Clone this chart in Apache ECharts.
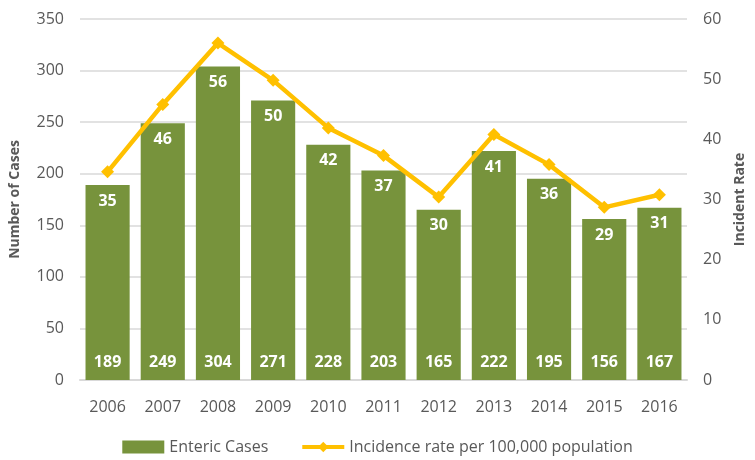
<!DOCTYPE html>
<html><head><meta charset="utf-8">
<script src="https://cdn.jsdelivr.net/npm/echarts@6/dist/echarts.min.js"></script>
<style>html,body{margin:0;padding:0;background:#fff}#c{width:755px;height:460px}</style>
</head><body><div id="c"></div>
<script>
const years = ['2006','2007','2008','2009','2010','2011','2012','2013','2014','2015','2016'];
const cases = [189,249,304,271,228,203,165,222,195,156,167];
const rates = [34.6,45.8,56.0,49.8,41.9,37.3,30.4,40.8,35.8,28.7,30.8];
const caseTicks = [0,50,100,150,200,250,300,350];
const rateTicks = [0,10,20,30,40,50,60];

const font = "'Open Sans', 'Noto Sans', sans-serif";
const chart = echarts.init(document.getElementById('c'));
chart.setOption({
  animation:false,
  textStyle:{fontFamily:font},
  grid:{left:79,right:59,top:19,bottom:80},
  legend:{
    bottom:0, left:'center', itemGap:32,
    data:[{name:'Enteric Cases',icon:'rect'},
          {name:'Incidence rate per 100,000 population',lineStyle:{width:4},itemStyle:{color:'#FFC000'}}],
    itemWidth:42, itemHeight:13,
    textStyle:{color:'#595959',fontSize:16,fontFamily:font}
  },
  xAxis:{type:'category',data:years,
    axisLine:{lineStyle:{color:'#D9D9D9',width:2}},axisTick:{show:false},
    axisLabel:{color:'#595959',fontSize:16,margin:19}},
  yAxis:[
    {type:'value',min:0,max:caseTicks[caseTicks.length-1],interval:50,
     name:'Number of Cases',nameLocation:'middle',nameGap:58,nameRotate:90,
     nameTextStyle:{color:'#595959',fontWeight:'bold',fontSize:14},
     axisLabel:{color:'#595959',fontSize:16,margin:16},
     splitLine:{lineStyle:{color:'#D9D9D9',width:1.5}}},
    {type:'value',min:0,max:rateTicks[rateTicks.length-1],interval:10,
     name:'Incident Rate',nameLocation:'middle',nameGap:46,nameRotate:90,
     nameTextStyle:{color:'#595959',fontWeight:'bold',fontSize:14},
     axisLabel:{color:'#595959',fontSize:16,margin:16},
     splitLine:{show:false}}
  ],
  series:[
    {name:'Enteric Cases',type:'bar',data:cases,barCategoryGap:'20%',
     itemStyle:{color:'#77933C'},
     label:{show:true,position:'insideBottom',distance:10,color:'#fff',fontWeight:'bold',fontSize:16}},
    {name:'rateLabel',type:'bar',data:cases,barGap:'-100%',barCategoryGap:'20%',
     itemStyle:{color:'rgba(0,0,0,0)'},silent:true,
     label:{show:true,position:'insideTop',distance:8,color:'#fff',fontWeight:'bold',fontSize:16,
       formatter:p=>Math.round(rates[p.dataIndex])}},
    {name:'Incidence rate per 100,000 population',type:'line',yAxisIndex:1,data:rates,
     symbol:'diamond',symbolSize:13,
     lineStyle:{color:'#FFC000',width:4.5},itemStyle:{color:'#FFC000'},z:5}
  ]
});
</script></body></html>
